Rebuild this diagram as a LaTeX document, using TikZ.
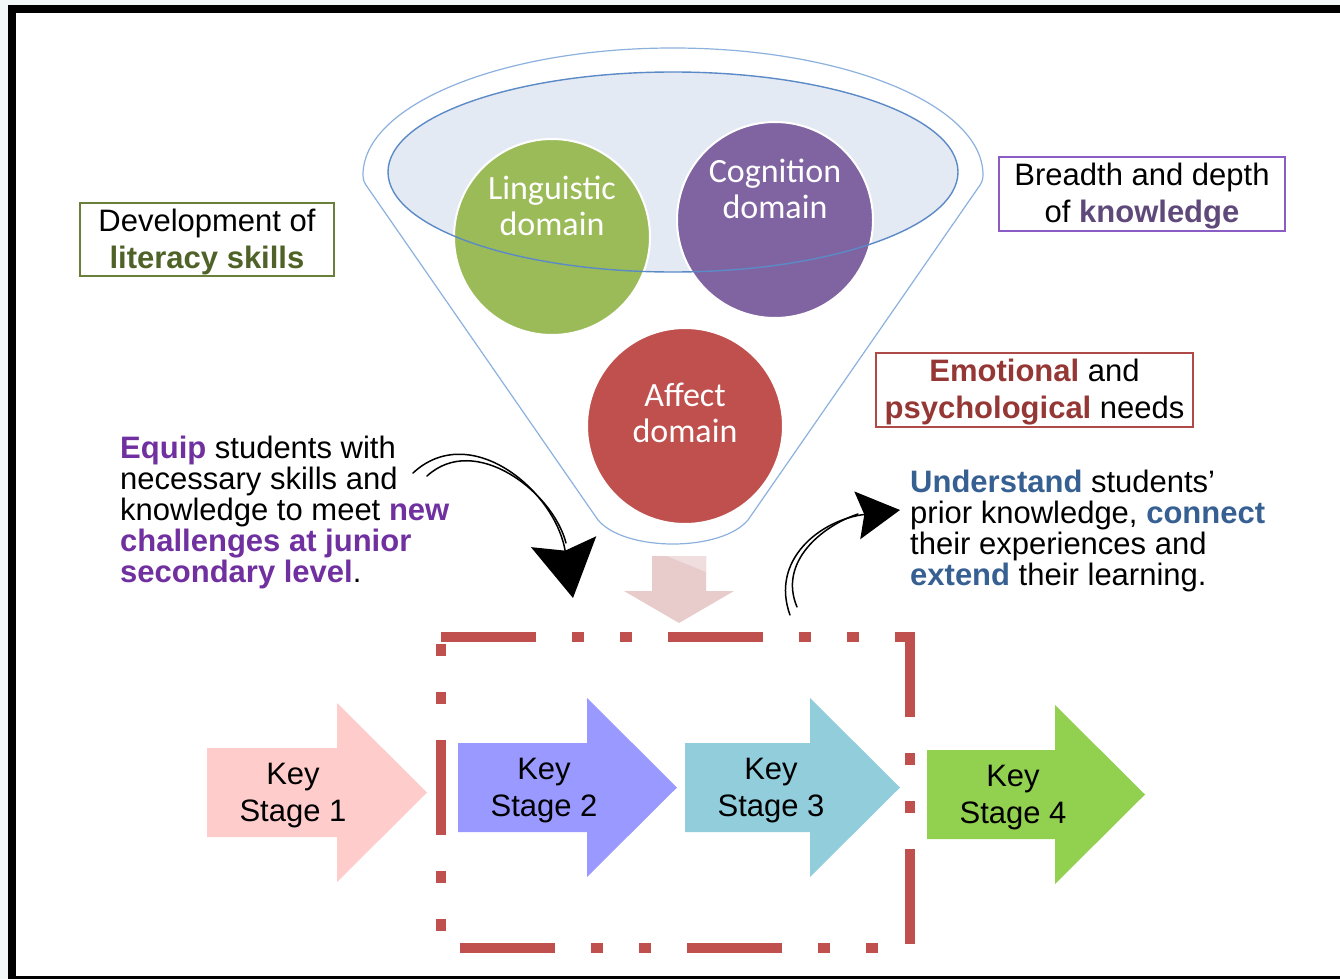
\documentclass[tikz,border=0pt]{standalone}
\usepackage{fontspec}
\setmainfont{Liberation Sans}
\newfontfamily\calibfont{Carlito}
\usetikzlibrary{arrows.meta}

\definecolor{litgreen}{HTML}{4F6228}
\definecolor{litframe}{HTML}{6A7F3A}
\definecolor{knowpurple}{HTML}{5F497A}
\definecolor{knowframe}{HTML}{8A5CC4}
\definecolor{emored}{HTML}{953735}
\definecolor{emoframe}{HTML}{B04A48}
\definecolor{equippurple}{HTML}{7030A0}
\definecolor{undblue}{HTML}{376092}
\definecolor{lingfill}{HTML}{9BBB59}
\definecolor{cognfill}{HTML}{8064A2}
\definecolor{affectfill}{HTML}{C0504D}
\definecolor{bowlfill}{HTML}{E4EAF4}
\definecolor{bowlline}{HTML}{5B8AC6}
\definecolor{funnelline}{HTML}{8DB1DD}
\definecolor{ksone}{HTML}{FFCCCC}
\definecolor{kstwo}{HTML}{9999FF}
\definecolor{ksthree}{HTML}{92CDDC}
\definecolor{ksfour}{HTML}{92D050}
\definecolor{stagered}{HTML}{C0504D}
\definecolor{flowpink}{HTML}{E8CCCC}
\definecolor{flowlight}{HTML}{F0DEDE}
\definecolor{edgetint}{HTML}{F2F7F7}

\tikzset{
  domcircle/.style={circle, draw=white, line width=2pt, minimum size=196pt, inner sep=0pt},
  domtext/.style={text=white, align=center, font=\calibfont\fontsize{34}{36}\selectfont},
  infobox/.style={line width=1.4pt, inner sep=0pt},
  infotext/.style={align=center, inner sep=0pt, font=\fontsize{31}{37}\selectfont},
  blurb/.style={align=left, anchor=north west, inner sep=0pt, font=\fontsize{31}{31}\selectfont},
  stagetext/.style={align=center, font=\fontsize{31}{37}\selectfont},
  scribble/.style={line width=1.5pt, line cap=round},
}

\begin{document}
\begin{tikzpicture}[x=1pt,y=-1pt]
  \useasboundingbox (0,0) rectangle (1340,979);
  \fill[edgetint] (0,0) rectangle (1340,979);
  \fill[white] (8,5) rectangle (1340,976);
  \fill[black] (8,5) rectangle (1340,13);
  \fill[black] (8,5) rectangle (16,979);
  \fill[black] (8,976) rectangle (1340,979);

  % funnel
  \draw[funnelline, line width=1.2pt] (598,520) -- (368,188) .. controls (364,183) and (363,179) .. (363,175)
    arc[start angle=180, end angle=360, x radius=310, y radius=127]
    .. controls (983,179) and (982,183) .. (978,188) -- (748,520)
    .. controls (721,552) and (625,552) .. (598,520) -- cycle;
  \fill[bowlfill] (673,172) ellipse[x radius=285, y radius=100];
  \node[domcircle, fill=lingfill] (ling) at (552,237) {};
  \node[domcircle, fill=cognfill] (cogn) at (775,220) {};
  \node[domcircle, fill=affectfill] (affect) at (685,426) {};
  \draw[bowlline, line width=1.4pt] (673,172) ellipse[x radius=285, y radius=100];
  \node[domtext] (lingtxt) at (552,206) {Linguistic\\domain};
  \node[domtext] (cogntxt) at (775,189) {Cognition\\domain};
  \node[domtext] (affecttxt) at (685,413) {Affect\\domain};

  \fill[flowpink] (652,556) -- (706,556) -- (706,591) -- (734,591) -- (679,623) -- (624,591) -- (652,591) -- cycle;
  \fill[flowlight] (667,556) -- (706,556) -- (706,572) -- cycle;

  \node[infobox, draw=litframe, minimum width=254pt, minimum height=73pt] (literacy) at (207,239.5) {};
  \node[infotext] (literacytxt) at (207,242)
    {Development of\\\textcolor{litgreen}{\textbf{literacy skills}}};
  \node[infobox, draw=knowframe, minimum width=286pt, minimum height=74pt] (knowledge) at (1142,194) {};
  \node[infotext] (knowledgetxt) at (1142,196.5)
    {Breadth and depth\\of \textcolor{knowpurple}{\textbf{knowledge}}};
  \node[infobox, draw=emoframe, minimum width=317pt, minimum height=74pt] (emotion) at (1034.5,390) {};
  \node[infotext] (emotiontxt) at (1034.5,392.5)
    {\textcolor{emored}{\textbf{Emotional}} and\\\textcolor{emored}{\textbf{psychological}} needs};

  \node[blurb] (equip) at (120,435.5)
    {\textcolor{equippurple}{\textbf{Equip}} students with\\
     necessary skills and\\
     knowledge to meet \textcolor{equippurple}{\textbf{new}}\\
     \textcolor{equippurple}{\textbf{challenges at junior}}\\
     \textcolor{equippurple}{\textbf{secondary level}}.};
  \node[blurb] (understand) at (910,469.5)
    {\textcolor{undblue}{\textbf{Understand}} students’\\
     prior knowledge, \textcolor{undblue}{\textbf{connect}}\\
     their experiences and\\
     \textcolor{undblue}{\textbf{extend}} their learning.};

  \coordinate (eqfrom) at (413,473);
  \coordinate (eqfrom2) at (427,476);
  \coordinate (eqhead) at (566,543);
  \coordinate (eqto) at (573,598);
  \draw[scribble, -{Stealth[length=57pt, width=66pt, inset=9pt]}] (eqfrom) .. controls (470,420) and (555,490) .. (eqto);
  \draw[scribble] (eqfrom2) .. controls (475,432) and (553,492) .. (eqhead);

  \coordinate (undfrom) at (790,615);
  \coordinate (undfrom2) at (797,607);
  \coordinate (undhead) at (858,514);
  \coordinate (undto) at (900,510);
  \draw[scribble, -{Stealth[length=43pt, width=48pt, inset=7pt]}] (undfrom) .. controls (770,560) and (820,520) .. (undto);
  \draw[scribble] (undfrom2) .. controls (778,562) and (822,526) .. (undhead);

  \foreach \nm/\lx/\bx/\tx/\ty/\col/\num in {ks1/207/337/427/748/ksone/1, ks2/458/587/677/743/kstwo/2,
      ks3/685/810/900/743/ksthree/3, ks4/927/1055/1145/750/ksfour/4} {
    \fill[\col] (\lx,\ty) -- (\bx,\ty) -- (\bx,\ty-45) -- (\tx,\ty+44.5) -- (\bx,\ty+134) -- (\bx,\ty+89) -- (\lx,\ty+89) -- cycle;
    \node[stagetext] (\nm) at (\lx+86,\ty+47.5) {Key\\Stage \num};
  }

  \draw[stagered, line width=10pt, dash pattern=on 95pt off 36pt on 12pt off 36pt on 12pt off 36pt]
    (441,637) -- (910,637) -- (910,948) -- (441,948) -- cycle;
\end{tikzpicture}
\end{document}
